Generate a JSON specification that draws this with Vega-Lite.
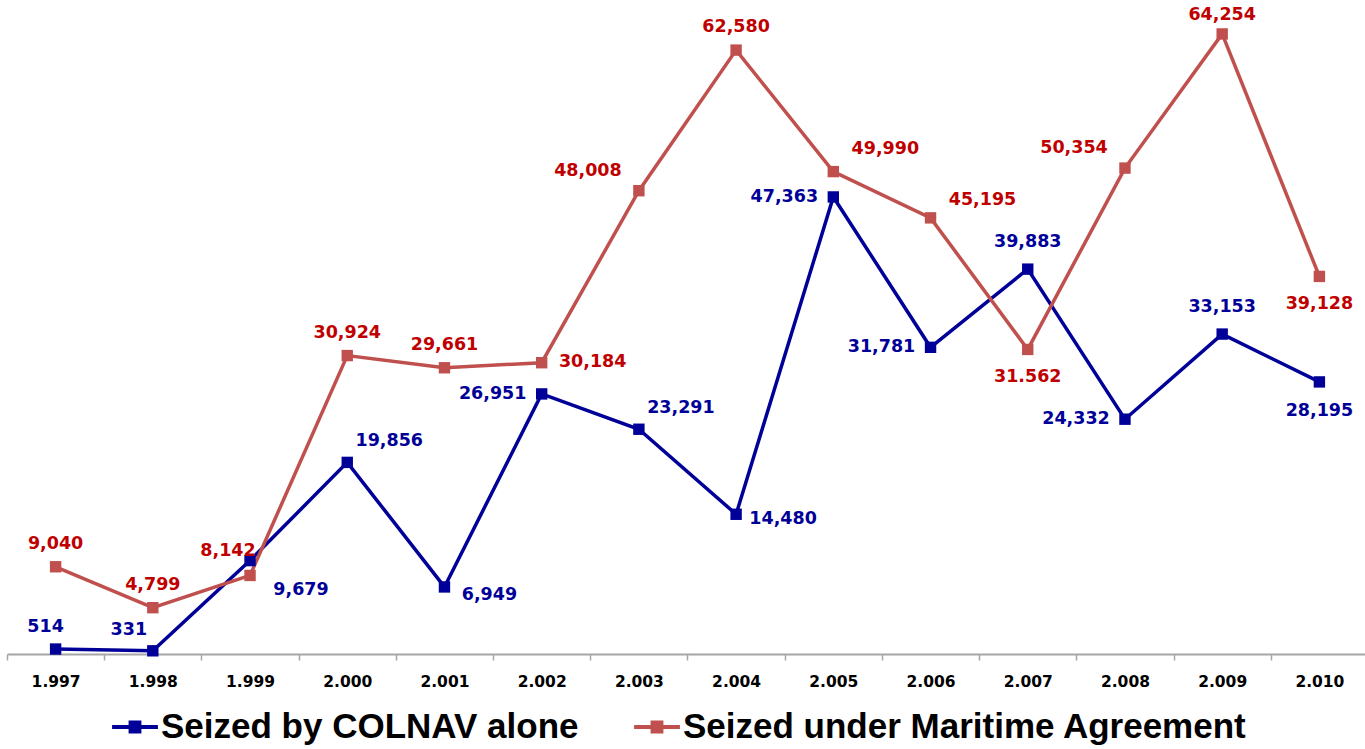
{
  "$schema": "https://vega.github.io/schema/vega-lite/v6.json",
  "width": 1361,
  "height": 654,
  "padding": {"left": 6, "top": 0, "right": 0, "bottom": 0},
  "background": "white",
  "config": {"view": {"stroke": null}, "text": {"font": "DejaVu Sans", "fontSize": 17.5, "fontWeight": "bold"}},
  "data": {"values": [
    {"year": "1.997", "series": "Seized by COLNAV alone", "value": 514, "label": "514"},
    {"year": "1.998", "series": "Seized by COLNAV alone", "value": 331, "label": "331"},
    {"year": "1.999", "series": "Seized by COLNAV alone", "value": 9679, "label": "9,679"},
    {"year": "2.000", "series": "Seized by COLNAV alone", "value": 19856, "label": "19,856"},
    {"year": "2.001", "series": "Seized by COLNAV alone", "value": 6949, "label": "6,949"},
    {"year": "2.002", "series": "Seized by COLNAV alone", "value": 26951, "label": "26,951"},
    {"year": "2.003", "series": "Seized by COLNAV alone", "value": 23291, "label": "23,291"},
    {"year": "2.004", "series": "Seized by COLNAV alone", "value": 14480, "label": "14,480"},
    {"year": "2.005", "series": "Seized by COLNAV alone", "value": 47363, "label": "47,363"},
    {"year": "2.006", "series": "Seized by COLNAV alone", "value": 31781, "label": "31,781"},
    {"year": "2.007", "series": "Seized by COLNAV alone", "value": 39883, "label": "39,883"},
    {"year": "2.008", "series": "Seized by COLNAV alone", "value": 24332, "label": "24,332"},
    {"year": "2.009", "series": "Seized by COLNAV alone", "value": 33153, "label": "33,153"},
    {"year": "2.010", "series": "Seized by COLNAV alone", "value": 28195, "label": "28,195"},
    {"year": "1.997", "series": "Seized under Maritime Agreement", "value": 9040, "label": "9,040"},
    {"year": "1.998", "series": "Seized under Maritime Agreement", "value": 4799, "label": "4,799"},
    {"year": "1.999", "series": "Seized under Maritime Agreement", "value": 8142, "label": "8,142"},
    {"year": "2.000", "series": "Seized under Maritime Agreement", "value": 30924, "label": "30,924"},
    {"year": "2.001", "series": "Seized under Maritime Agreement", "value": 29661, "label": "29,661"},
    {"year": "2.002", "series": "Seized under Maritime Agreement", "value": 30184, "label": "30,184"},
    {"year": "2.003", "series": "Seized under Maritime Agreement", "value": 48008, "label": "48,008"},
    {"year": "2.004", "series": "Seized under Maritime Agreement", "value": 62580, "label": "62,580"},
    {"year": "2.005", "series": "Seized under Maritime Agreement", "value": 49990, "label": "49,990"},
    {"year": "2.006", "series": "Seized under Maritime Agreement", "value": 45195, "label": "45,195"},
    {"year": "2.007", "series": "Seized under Maritime Agreement", "value": 31562, "label": "31.562"},
    {"year": "2.008", "series": "Seized under Maritime Agreement", "value": 50354, "label": "50,354"},
    {"year": "2.009", "series": "Seized under Maritime Agreement", "value": 64254, "label": "64,254"},
    {"year": "2.010", "series": "Seized under Maritime Agreement", "value": 39128, "label": "39,128"}
  ]},
  "encoding": {
    "x": {
      "field": "year", "type": "ordinal",
      "scale": {"type": "band", "paddingInner": 0, "paddingOuter": 0},
      "axis": {
        "title": null, "labelAngle": 0,
        "labelFont": "DejaVu Sans", "labelFontSize": 15.5, "labelFontWeight": "bold", "labelColor": "#000000",
        "domainColor": "#A6A6A6", "domainWidth": 2,
        "tickColor": "#A6A6A6", "tickWidth": 1.5, "tickSize": 6, "tickBand": "extent",
        "labelPadding": 14
      }
    },
    "y": {
      "field": "value", "type": "quantitative",
      "scale": {"domain": [0, 67772], "nice": false, "zero": true},
      "axis": null
    }
  },
  "layer": [
    {
      "mark": {"type": "line", "strokeWidth": 3.5, "clip": false},
      "encoding": {
        "color": {
          "field": "series", "type": "nominal",
          "scale": {"domain": ["Seized by COLNAV alone", "Seized under Maritime Agreement"], "range": ["#000099", "#C0504D"]},
          "legend": {
            "title": null, "orient": "none", "direction": "horizontal", "legendX": 105, "legendY": 704,
            "labelFont": "Liberation Sans", "labelFontSize": 35, "labelFontWeight": "bold", "labelColor": "#000000",
            "labelLimit": 1000, "symbolType": "M-1,-0.09H-0.28V-0.28H0.28V-0.09H1V0.09H0.28V0.28H-0.28V0.09H-1Z",
            "symbolSize": 2100, "symbolStrokeWidth": 0, "columnPadding": 55, "labelOffset": 3
          }
        }
      }
    },
    {
      "mark": {"type": "point", "shape": "square", "filled": true, "size": 130, "opacity": 1, "clip": false},
      "encoding": {
        "color": {"field": "series", "type": "nominal"}
      }
    },
    {
      "transform": [{"filter": "datum.series === 'Seized by COLNAV alone' && datum.year === '1.997'"}],
      "mark": {"type": "text", "color": "#000099", "dx": -10, "dy": -22},
      "encoding": {"text": {"field": "label"}}
    },
    {
      "transform": [{"filter": "datum.series === 'Seized by COLNAV alone' && datum.year === '1.998'"}],
      "mark": {"type": "text", "color": "#000099", "dx": -24, "dy": -21},
      "encoding": {"text": {"field": "label"}}
    },
    {
      "transform": [{"filter": "datum.series === 'Seized by COLNAV alone' && datum.year === '1.999'"}],
      "mark": {"type": "text", "color": "#000099", "dx": 51, "dy": 29},
      "encoding": {"text": {"field": "label"}}
    },
    {
      "transform": [{"filter": "datum.series === 'Seized by COLNAV alone' && indexof(['2.000','2.003'], datum.year) >= 0"}],
      "mark": {"type": "text", "color": "#000099", "dx": 42, "dy": -21},
      "encoding": {"text": {"field": "label"}}
    },
    {
      "transform": [{"filter": "datum.series === 'Seized by COLNAV alone' && datum.year === '2.001'"}],
      "mark": {"type": "text", "color": "#000099", "dx": 45, "dy": 8},
      "encoding": {"text": {"field": "label"}}
    },
    {
      "transform": [{"filter": "datum.series === 'Seized by COLNAV alone' && datum.year === '2.004'"}],
      "mark": {"type": "text", "color": "#000099", "dx": 47, "dy": 5},
      "encoding": {"text": {"field": "label"}}
    },
    {
      "transform": [{"filter": "datum.series === 'Seized by COLNAV alone' && indexof(['2.002','2.005','2.006','2.008'], datum.year) >= 0"}],
      "mark": {"type": "text", "color": "#000099", "dx": -49, "dy": 0},
      "encoding": {"text": {"field": "label"}}
    },
    {
      "transform": [{"filter": "datum.series === 'Seized by COLNAV alone' && indexof(['2.007','2.009'], datum.year) >= 0"}],
      "mark": {"type": "text", "color": "#000099", "dx": 0, "dy": -27},
      "encoding": {"text": {"field": "label"}}
    },
    {
      "transform": [{"filter": "datum.series === 'Seized by COLNAV alone' && datum.year === '2.010'"}],
      "mark": {"type": "text", "color": "#000099", "dx": 0, "dy": 29},
      "encoding": {"text": {"field": "label"}}
    },
    {
      "transform": [{"filter": "datum.series === 'Seized under Maritime Agreement' && indexof(['1.997','1.998','2.000','2.001','2.004'], datum.year) >= 0"}],
      "mark": {"type": "text", "color": "#C00000", "dx": 0, "dy": -23},
      "encoding": {"text": {"field": "label"}}
    },
    {
      "transform": [{"filter": "datum.series === 'Seized under Maritime Agreement' && datum.year === '2.009'"}],
      "mark": {"type": "text", "color": "#C00000", "dx": 0, "dy": -19},
      "encoding": {"text": {"field": "label"}}
    },
    {
      "transform": [{"filter": "datum.series === 'Seized under Maritime Agreement' && datum.year === '1.999'"}],
      "mark": {"type": "text", "color": "#C00000", "dx": -22, "dy": -24},
      "encoding": {"text": {"field": "label"}}
    },
    {
      "transform": [{"filter": "datum.series === 'Seized under Maritime Agreement' && indexof(['2.003','2.008'], datum.year) >= 0"}],
      "mark": {"type": "text", "color": "#C00000", "dx": -51, "dy": -20},
      "encoding": {"text": {"field": "label"}}
    },
    {
      "transform": [{"filter": "datum.series === 'Seized under Maritime Agreement' && datum.year === '2.002'"}],
      "mark": {"type": "text", "color": "#C00000", "dx": 51, "dy": -1},
      "encoding": {"text": {"field": "label"}}
    },
    {
      "transform": [{"filter": "datum.series === 'Seized under Maritime Agreement' && datum.year === '2.005'"}],
      "mark": {"type": "text", "color": "#C00000", "dx": 52, "dy": -23},
      "encoding": {"text": {"field": "label"}}
    },
    {
      "transform": [{"filter": "datum.series === 'Seized under Maritime Agreement' && datum.year === '2.006'"}],
      "mark": {"type": "text", "color": "#C00000", "dx": 52, "dy": -18},
      "encoding": {"text": {"field": "label"}}
    },
    {
      "transform": [{"filter": "datum.series === 'Seized under Maritime Agreement' && indexof(['2.007','2.010'], datum.year) >= 0"}],
      "mark": {"type": "text", "color": "#C00000", "dx": 0, "dy": 28},
      "encoding": {"text": {"field": "label"}}
    }
  ]
}
